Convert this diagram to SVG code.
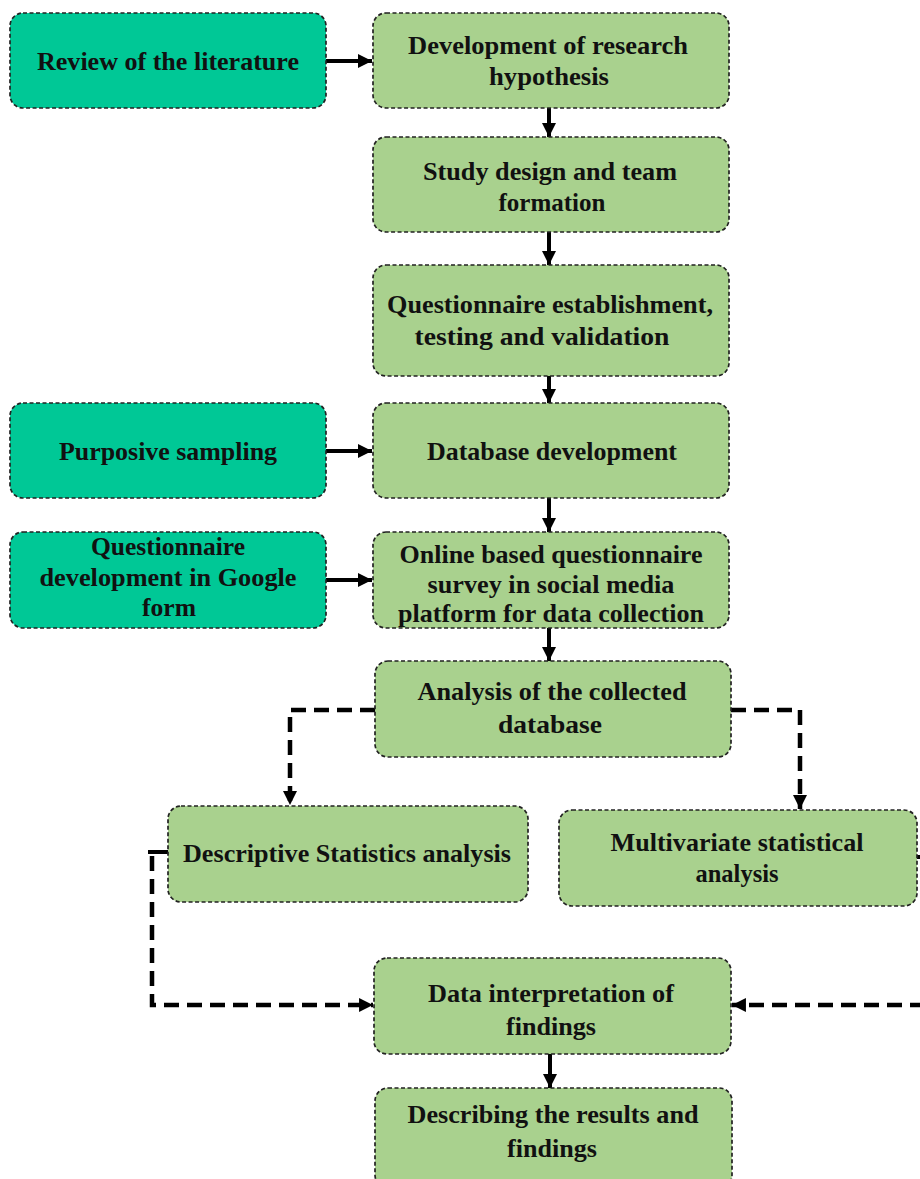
<svg xmlns="http://www.w3.org/2000/svg" width="920" height="1179" viewBox="0 0 920 1179">
<style>
.box{stroke:#222;stroke-width:1.7;stroke-dasharray:4 2.5}
.teal{fill:#00C896}
.green{fill:#A9D18E}
text{font-family:"Liberation Serif","Times New Roman",serif;font-weight:bold;font-size:26px;fill:#111}
.solid{stroke:#000;stroke-width:4;fill:none}
.dash{stroke:#000;stroke-width:4.5;fill:none;stroke-dasharray:15 8}
</style>
<defs>
<marker id="ah" viewBox="0 0 10 10" refX="10" refY="5" markerWidth="3.6" markerHeight="3.6" orient="auto" markerUnits="strokeWidth">
<path d="M0,0 L10,5 L0,10 z" fill="#000"/>
</marker>
<marker id="ahd" viewBox="0 0 10 10" refX="10" refY="5" markerWidth="3.1" markerHeight="3.1" orient="auto" markerUnits="strokeWidth">
<path d="M0,0 L10,5 L0,10 z" fill="#000"/>
</marker>
</defs>
<rect width="920" height="1179" fill="#fff"/>

<g id="connectors">
<line class="solid" x1="326" y1="61" x2="372" y2="61" marker-end="url(#ah)"/>
<line class="solid" x1="549" y1="108" x2="549" y2="137" marker-end="url(#ah)"/>
<line class="solid" x1="549" y1="232" x2="549" y2="265" marker-end="url(#ah)"/>
<line class="solid" x1="549" y1="376" x2="549" y2="403" marker-end="url(#ah)"/>
<line class="solid" x1="326" y1="451" x2="372" y2="451" marker-end="url(#ah)"/>
<line class="solid" x1="549" y1="498" x2="549" y2="532" marker-end="url(#ah)"/>
<line class="solid" x1="326" y1="580" x2="372" y2="580" marker-end="url(#ah)"/>
<line class="solid" x1="549" y1="628" x2="549" y2="661" marker-end="url(#ah)"/>
<path class="dash" d="M375,710 H290 V805" marker-end="url(#ahd)"/>
<path class="dash" d="M731,710 H800 V809" marker-end="url(#ahd)"/>
<line class="solid" x1="148" y1="852" x2="168" y2="852"/>
<path class="dash" d="M152,856 V1005 H373" marker-end="url(#ahd)"/>
<line class="solid" x1="917" y1="857" x2="925" y2="857"/>
<path class="dash" d="M925,1005 H732" marker-end="url(#ahd)"/>
<line class="solid" x1="550" y1="1054" x2="550" y2="1088" marker-end="url(#ah)"/>
</g>

<g id="n-review">
<rect class="box teal" x="10" y="13" width="316" height="95" rx="13"/>
<text x="168" y="70" text-anchor="middle" textLength="262" lengthAdjust="spacingAndGlyphs">Review of the literature</text>
</g>
<g id="n-hypothesis">
<rect class="box green" x="373" y="13" width="356" height="95" rx="13"/>
<text x="548" y="54" text-anchor="middle" textLength="280" lengthAdjust="spacingAndGlyphs">Development of research</text>
<text x="549" y="85" text-anchor="middle" textLength="120" lengthAdjust="spacingAndGlyphs">hypothesis</text>
</g>
<g id="n-study">
<rect class="box green" x="373" y="137" width="356" height="95" rx="13"/>
<text x="550" y="180" text-anchor="middle" textLength="254" lengthAdjust="spacingAndGlyphs">Study design and team</text>
<text x="552" y="211" text-anchor="middle" textLength="107" lengthAdjust="spacingAndGlyphs">formation</text>
</g>
<g id="n-questionnaire">
<rect class="box green" x="373" y="265" width="356" height="111" rx="13"/>
<text x="550" y="313" text-anchor="middle" textLength="326" lengthAdjust="spacingAndGlyphs">Questionnaire establishment,</text>
<text x="542" y="345" text-anchor="middle" textLength="255" lengthAdjust="spacingAndGlyphs">testing and validation</text>
</g>
<g id="n-sampling">
<rect class="box teal" x="10" y="403" width="316" height="95" rx="13"/>
<text x="168" y="460" text-anchor="middle" textLength="218" lengthAdjust="spacingAndGlyphs">Purposive sampling</text>
</g>
<g id="n-database">
<rect class="box green" x="373" y="403" width="356" height="95" rx="13"/>
<text x="552" y="460" text-anchor="middle" textLength="250" lengthAdjust="spacingAndGlyphs">Database development</text>
</g>
<g id="n-google">
<rect class="box teal" x="10" y="532" width="316" height="96" rx="13"/>
<text x="168" y="555" text-anchor="middle" textLength="154" lengthAdjust="spacingAndGlyphs">Questionnaire</text>
<text x="168" y="586" text-anchor="middle" textLength="257" lengthAdjust="spacingAndGlyphs">development in Google</text>
<text x="169" y="616" text-anchor="middle" textLength="54" lengthAdjust="spacingAndGlyphs">form</text>
</g>
<g id="n-online">
<rect class="box green" x="373" y="532" width="356" height="96" rx="13"/>
<text x="551" y="563" text-anchor="middle" textLength="303" lengthAdjust="spacingAndGlyphs">Online based questionnaire</text>
<text x="551" y="593" text-anchor="middle" textLength="247" lengthAdjust="spacingAndGlyphs">survey in social media</text>
<text x="551" y="622" text-anchor="middle" textLength="306" lengthAdjust="spacingAndGlyphs">platform for data collection</text>
</g>
<g id="n-analysis">
<rect class="box green" x="375" y="661" width="356" height="96" rx="13"/>
<text x="552" y="700" text-anchor="middle" textLength="269" lengthAdjust="spacingAndGlyphs">Analysis of the collected</text>
<text x="550" y="733" text-anchor="middle" textLength="104" lengthAdjust="spacingAndGlyphs">database</text>
</g>
<g id="n-descriptive">
<rect class="box green" x="168" y="806" width="360" height="96" rx="13"/>
<text x="347" y="862" text-anchor="middle" textLength="328" lengthAdjust="spacingAndGlyphs">Descriptive Statistics analysis</text>
</g>
<g id="n-multivariate">
<rect class="box green" x="559" y="810" width="358" height="96" rx="13"/>
<text x="737" y="851" text-anchor="middle" textLength="253" lengthAdjust="spacingAndGlyphs">Multivariate statistical</text>
<text x="737" y="882" text-anchor="middle" textLength="83" lengthAdjust="spacingAndGlyphs">analysis</text>
</g>
<g id="n-interpretation">
<rect class="box green" x="374" y="958" width="357" height="96" rx="13"/>
<text x="551" y="1002" text-anchor="middle" textLength="246" lengthAdjust="spacingAndGlyphs">Data interpretation of</text>
<text x="551" y="1035" text-anchor="middle" textLength="90" lengthAdjust="spacingAndGlyphs">findings</text>
</g>
<g id="n-results">
<rect class="box green" x="375" y="1088" width="357" height="100" rx="13"/>
<text x="553" y="1123" text-anchor="middle" textLength="291" lengthAdjust="spacingAndGlyphs">Describing the results and</text>
<text x="552" y="1157" text-anchor="middle" textLength="90" lengthAdjust="spacingAndGlyphs">findings</text>
</g>
</svg>
